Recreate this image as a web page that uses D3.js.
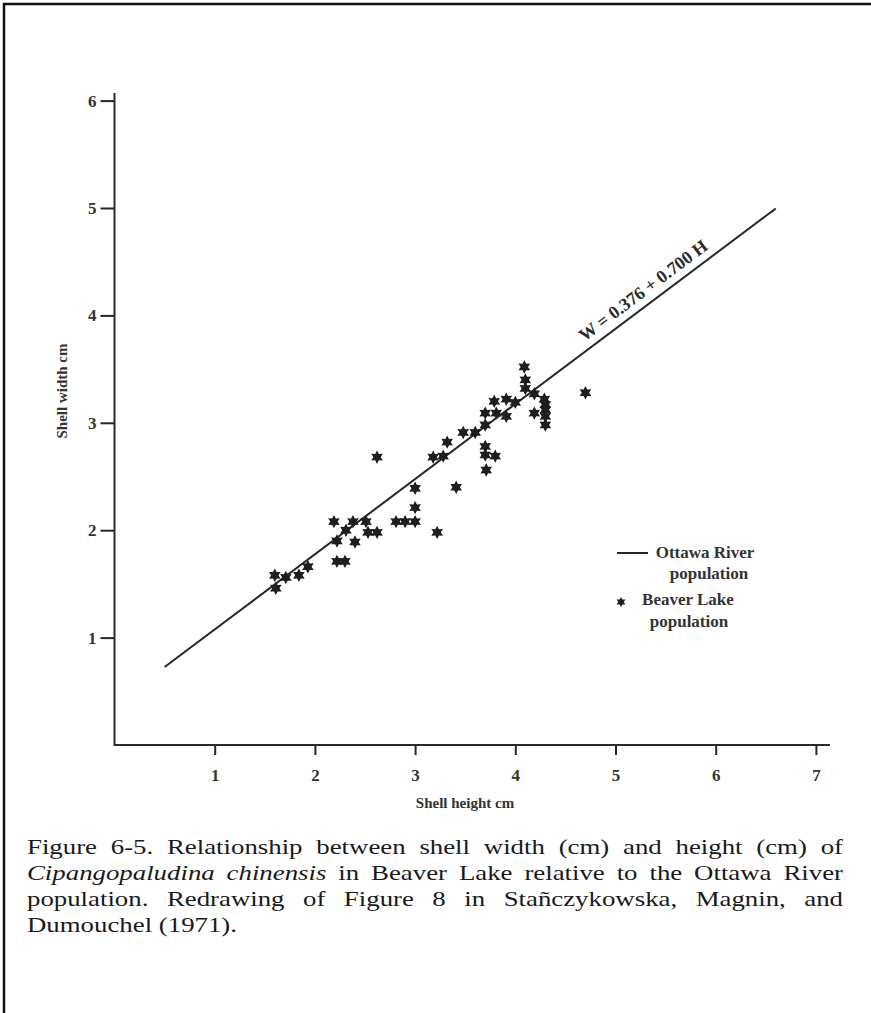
<!DOCTYPE html>
<html>
<head>
<meta charset="utf-8">
<script src="https://cdn.jsdelivr.net/npm/d3@7"></script>
<style>
  body { margin: 0; background: #fff; }
  svg { display: block; }
</style>
</head>
<body>
<script>
// Axis ticks
const xTicks = [1, 2, 3, 4, 5, 6, 7];
const yTicks = [1, 2, 3, 4, 5, 6];

// Beaver Lake shells: height (cm) and width (cm)
const shellHeight = [
  4.09, 4.10, 4.10, 4.19, 4.29, 4.30, 4.30, 4.30, 4.30, 4.19,
  4.70, 4.00, 3.91, 3.79, 3.81, 3.70, 3.91, 3.70, 3.60, 3.48,
  3.32, 3.28, 3.18, 3.70, 3.70, 3.80, 3.71, 2.62, 3.00, 3.41,
  2.19, 2.22, 2.22, 2.30, 2.31, 2.38, 2.40, 2.51, 2.53, 2.62,
  2.81, 2.90, 3.00, 3.00, 3.22, 1.60, 1.61, 1.71, 1.84, 1.93
];
const shellWidth = [
  3.52, 3.40, 3.32, 3.27, 3.22, 3.17, 3.12, 3.06, 2.98, 3.09,
  3.28, 3.19, 3.22, 3.20, 3.09, 3.09, 3.06, 2.98, 2.91, 2.91,
  2.82, 2.69, 2.68, 2.78, 2.70, 2.69, 2.56, 2.68, 2.39, 2.40,
  2.08, 1.90, 1.71, 1.71, 2.00, 2.08, 1.89, 2.08, 1.98, 1.98,
  2.08, 2.08, 2.08, 2.21, 1.98, 1.58, 1.46, 1.56, 1.58, 1.66
];

// Ottawa River regression W = a + b H
const fitIntercept = 0.376;
const fitSlope = 0.700;
const fitRange = [0.5, 6.6];
const equationText = "W = 0.376 + 0.700 H";

const legendRiver = ["Ottawa River", "population"];
const legendLake = ["Beaver Lake", "population"];
const xTitle = "Shell height cm";
const yTitle = "Shell width cm";

const captionLines = [
  [["Figure 6-5. Relationship between shell width (cm) and height (cm) of", false]],
  [["Cipangopaludina chinensis", true], ["in Beaver Lake relative to the Ottawa River", false]],
  [["population. Redrawing of Figure 8 in Stañczykowska, Magnin, and", false]],
  [["Dumouchel (1971).", false]]
];

// ---------------------------------------------------------------
const W = 871, H = 1013;
const ink = "#262626";
const serif = "'Liberation Serif', 'Times New Roman', Times, serif";

const svg = d3.select("body").append("svg")
  .attr("width", W).attr("height", H)
  .attr("viewBox", `0 0 ${W} ${H}`);

svg.append("rect").attr("width", W).attr("height", H).attr("fill", "#fff");

// page frame (top and left edges)
svg.append("path")
  .attr("d", `M4,${H} V4 H${W}`)
  .attr("fill", "none").attr("stroke", "#111").attr("stroke-width", 2.5);

const x = d3.scaleLinear().domain([0, 7]).range([114.5, 815.9]);
const y = d3.scaleLinear().domain([0, 6]).range([745, 100.6]);

// x axis ticks and labels
const gx = svg.append("g")
  .attr("transform", `translate(0,${y(0)})`)
  .call(d3.axisBottom(x).tickValues(xTicks).tickSize(10).tickSizeOuter(0)
    .tickPadding(14).tickFormat(d3.format("d")));
gx.select(".domain").remove();

// y axis ticks and labels
const gy = svg.append("g")
  .attr("transform", `translate(${x(0)},0)`)
  .call(d3.axisLeft(y).tickValues(yTicks).tickSize(14).tickSizeOuter(0)
    .tickPadding(4).tickFormat(d3.format("d")));
gy.select(".domain").remove();

[gx, gy].forEach(g => {
  g.selectAll(".tick line").attr("stroke", ink).attr("stroke-width", 2);
  g.selectAll(".tick text")
    .attr("font-family", serif).attr("font-weight", "bold")
    .attr("font-size", 17).attr("fill", "#333");
});

// axis lines meeting at the origin
svg.append("path")
  .attr("d", `M${x(0)},${y(6.07)} V${y(0)} H${x(7.14)}`)
  .attr("fill", "none").attr("stroke", "#2a2a2a").attr("stroke-width", 2);

// axis titles
svg.append("text")
  .attr("x", 465).attr("y", 808)
  .attr("text-anchor", "middle")
  .attr("font-family", serif).attr("font-weight", "bold").attr("font-size", 15)
  .attr("fill", "#333")
  .text(xTitle);

svg.append("text")
  .attr("transform", "translate(67,391) rotate(-90)")
  .attr("text-anchor", "middle")
  .attr("font-family", serif).attr("font-weight", "bold").attr("font-size", 15)
  .attr("fill", "#333")
  .text(yTitle);

// regression line
const fitW = h => fitIntercept + fitSlope * h;
svg.append("path")
  .datum(fitRange)
  .attr("d", d3.line().x(d => x(d)).y(d => y(fitW(d))))
  .attr("fill", "none").attr("stroke", ink).attr("stroke-width", 2);

// equation written along the line
const angle = Math.atan2(y(fitW(6)) - y(fitW(5)), x(6) - x(5)) * 180 / Math.PI;
const hEq = 5.36;
svg.append("text")
  .attr("transform", `translate(${x(hEq)},${y(fitW(hEq))}) rotate(${angle})`)
  .attr("dy", -8)
  .attr("text-anchor", "middle")
  .attr("font-family", serif).attr("font-weight", "bold").attr("font-size", 18)
  .attr("fill", "#2a2a2a")
  .text(equationText);

// six-pointed star marker
const star6 = {
  draw(ctx, size) {
    const R = Math.sqrt(size) * 0.6, r = R * 0.55;
    for (let i = 0; i < 12; i++) {
      const a = i * Math.PI / 6 - Math.PI / 2;
      const rad = i % 2 === 0 ? R : r;
      const px = rad * Math.cos(a), py = rad * Math.sin(a);
      if (i === 0) ctx.moveTo(px, py); else ctx.lineTo(px, py);
    }
    ctx.closePath();
  }
};

svg.append("g")
  .selectAll("path")
  .data(d3.range(shellHeight.length))
  .join("path")
  .attr("transform", i => `translate(${x(shellHeight[i])},${y(shellWidth[i])})`)
  .attr("d", d3.symbol(star6, 125))
  .attr("fill", "#1e1e1e");

// legend
const lg = svg.append("g")
  .attr("font-family", serif).attr("font-weight", "bold").attr("font-size", 17)
  .attr("fill", "#333").attr("text-anchor", "middle");
lg.append("line")
  .attr("x1", 617).attr("x2", 648).attr("y1", 553).attr("y2", 553)
  .attr("stroke", ink).attr("stroke-width", 2);
lg.append("text").attr("x", 705).attr("y", 558).text(legendRiver[0]);
lg.append("text").attr("x", 709).attr("y", 579).text(legendRiver[1]);
lg.append("path")
  .attr("transform", "translate(621,602)")
  .attr("d", d3.symbol(star6, 70))
  .attr("fill", "#1e1e1e");
lg.append("text").attr("x", 688).attr("y", 605).text(legendLake[0]);
lg.append("text").attr("x", 689).attr("y", 627).text(legendLake[1]);

// justified caption, set in a slightly widened serif
const capStretch = 1.22;
const cap = svg.append("g")
  .attr("transform", `scale(${capStretch},1)`)
  .attr("font-family", serif).attr("font-size", 22).attr("fill", "#1a1a1a");
const capLeft = 27 / capStretch, capRight = 843 / capStretch;
const capBase = [854, 880, 906, 932];

captionLines.forEach((segs, li) => {
  const words = [];
  segs.forEach(([t, it]) => t.split(" ").forEach(w => words.push({ w, it })));
  const nodes = words.map(d => cap.append("text")
    .attr("y", capBase[li])
    .attr("font-style", d.it ? "italic" : "normal")
    .text(d.w));
  const widths = nodes.map(n => n.node().getComputedTextLength());
  const last = li === captionLines.length - 1;
  const gap = last ? 5.5 : (capRight - capLeft - d3.sum(widths)) / (words.length - 1);
  let cx = capLeft;
  nodes.forEach((n, i) => { n.attr("x", cx); cx += widths[i] + gap; });
});
</script>
</body>
</html>
